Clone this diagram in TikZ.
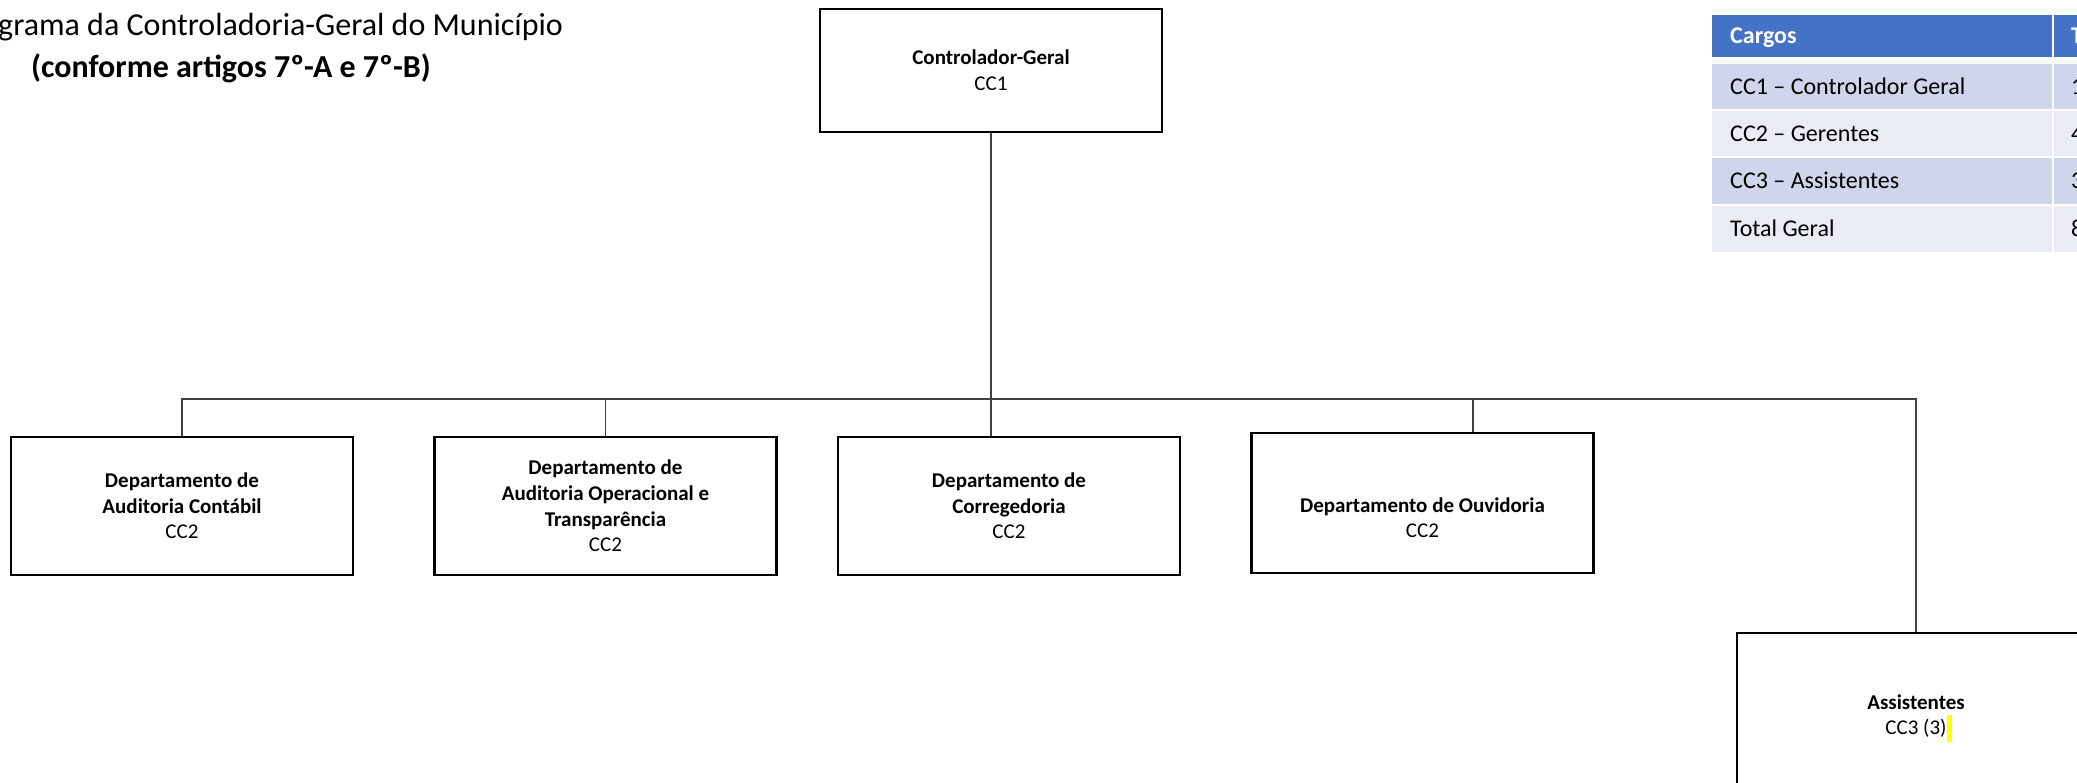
\documentclass[tikz,border=0pt]{standalone}
\usepackage{fontspec}
\setmainfont{Carlito}
\definecolor{hdrblue}{HTML}{4472C4}
\definecolor{rowa}{HTML}{CFD5EA}
\definecolor{rowb}{HTML}{E9EBF5}
\definecolor{hlyellow}{HTML}{FFFF00}
\definecolor{lnk}{HTML}{404040}
\begin{document}
\begin{tikzpicture}[x=1pt,y=-1pt,
  orgbox/.style={draw=black, line width=2.9pt, align=center, inner sep=0pt,
    minimum width=342pt, font=\fontsize{21}{25.6}\selectfont},
  conn/.style={draw=lnk, line width=1.3pt},
  tcell/.style={anchor=north west, inner xsep=18pt, inner ysep=0pt, align=flush left,
    text height=15.5pt, text depth=0pt, font=\fontsize{24}{29}\selectfont},
  tcellb/.style={tcell, inner xsep=17pt},
  titlefont/.style={font=\fontsize{32}{39}\selectfont, inner sep=0pt}
]
\useasboundingbox (0,0) rectangle (2077,782);
\clip (0,0) rectangle (2077,782);

% title
\node[titlefont, anchor=base west] (title1) at (-2,35) {grama da Controladoria-Geral do Município};
\node[titlefont, anchor=base] (title2) at (231,77) {\textbf{(conforme artigos 7º-A e 7º-B)}};

% org boxes
\node[orgbox, minimum height=123pt] (cg) at (991,70.5) {\textbf{Controlador-Geral}\\CC1};
\node[orgbox, minimum height=138pt] (d1) at (182,506) {\textbf{Departamento de}\\\textbf{Auditoria Contábil}\\CC2};
\node[orgbox, minimum height=138pt] (d2) at (605.5,506) {\textbf{Departamento de}\\\textbf{Auditoria Operacional e}\\\textbf{Transparência}\\CC2};
\node[orgbox, minimum height=138pt] (d3) at (1009,506) {\textbf{Departamento de}\\\textbf{Corregedoria}\\CC2};
\node[orgbox, minimum height=140pt] (d4) at (1422.5,503) {\rule{0pt}{44pt}\textbf{Departamento de Ouvidoria}\\CC2};
\node[orgbox, minimum width=358pt, minimum height=170pt] (asst) at (1916,718) {\textbf{Assistentes}\\CC3 (3)\rlap{\textcolor{hlyellow}{\rule[-7pt]{5pt}{27pt}}}};

% connectors
\coordinate (bus) at (991,399);
\coordinate (d4drop) at (1473,399);
\draw[conn] (cg.south) -- (cg.south |- d3.north);
\draw[conn] (d1.north) |- (bus) -| (asst.north);
\draw[conn] (d2.north) -- (d2.north |- bus);
\draw[conn] (d4drop) -- (d4drop |- d4.north);

% table
\node[tcell, fill=hdrblue, text=white, minimum width=340pt, minimum height=42pt, text width=304pt] (t11) at (1712,15) {\textbf{Cargos}};
\node[tcellb, fill=hdrblue, text=white, minimum width=100pt, minimum height=42pt, text width=66pt] (t12) at (2054,15) {\textbf{T}};
\node[tcell, fill=rowa, minimum width=340pt, minimum height=45pt, text width=304pt] (t21) at (1712,64) {CC1 – Controlador Geral};
\node[tcellb, fill=rowa, minimum width=100pt, minimum height=45pt, text width=66pt] (t22) at (2054,64) {1};
\node[tcell, fill=rowb, minimum width=340pt, minimum height=45pt, text width=304pt] (t31) at (1712,111) {CC2 – Gerentes};
\node[tcellb, fill=rowb, minimum width=100pt, minimum height=45pt, text width=66pt] (t32) at (2054,111) {4};
\node[tcell, fill=rowa, minimum width=340pt, minimum height=46pt, text width=304pt] (t41) at (1712,158) {CC3 – Assistentes};
\node[tcellb, fill=rowa, minimum width=100pt, minimum height=46pt, text width=66pt] (t42) at (2054,158) {3};
\node[tcell, fill=rowb, minimum width=340pt, minimum height=46pt, text width=304pt] (t51) at (1712,206) {Total Geral};
\node[tcellb, fill=rowb, minimum width=100pt, minimum height=46pt, text width=66pt] (t52) at (2054,206) {8};
\end{tikzpicture}
\end{document}
